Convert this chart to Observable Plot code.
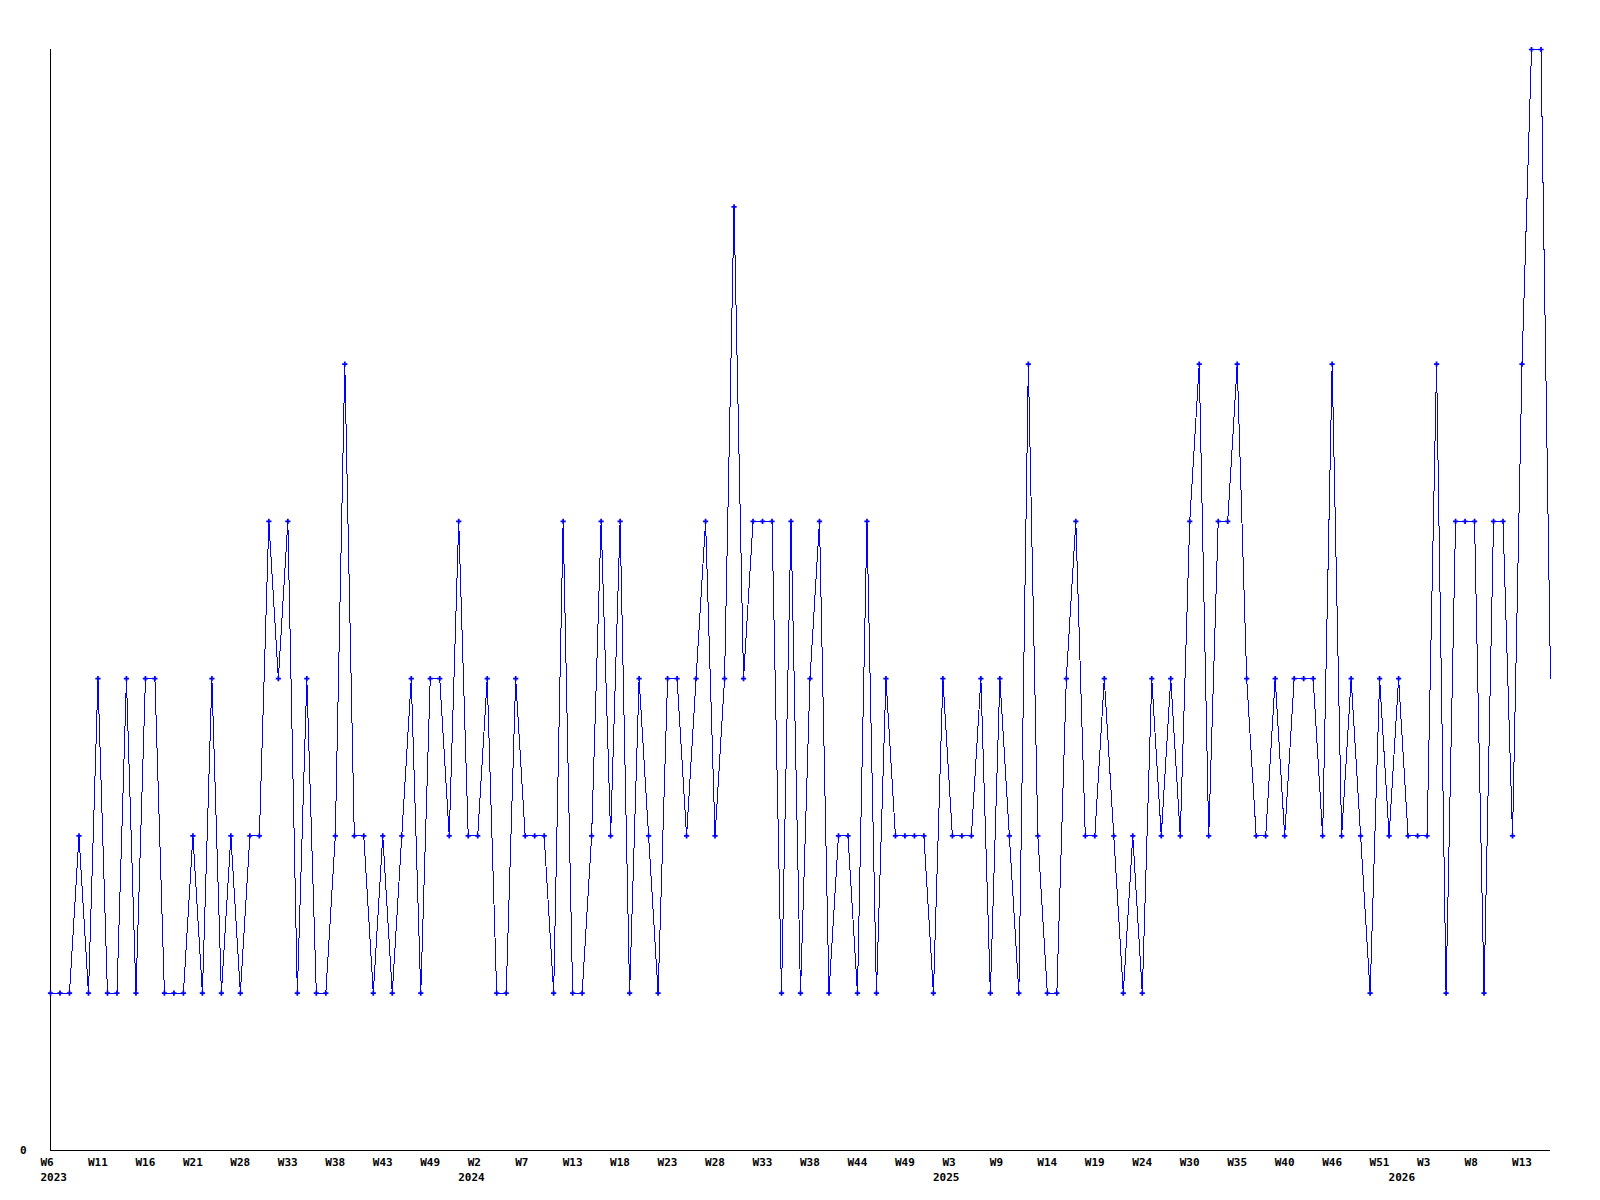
<!DOCTYPE html>
<html>
<head>
<meta charset="utf-8">
<script src="https://cdn.jsdelivr.net/npm/d3@7"></script>
<script src="https://cdn.jsdelivr.net/npm/@observablehq/plot@0.6"></script>
<style>
  html, body { margin: 0; padding: 0; background: #ffffff; }
  #chart svg { display: block; }
</style>
</head>
<body>
<div id="chart"></div>
<script>
// Weekly values, one per data point (2023 W6 → 2026 ~W16)
const values = [
  1,1,1,2,1,3,1,1,3,1,
  3,3,1,1,1,2,1,3,1,2,
  1,2,2,4,3,4,1,3,1,1,
  2,5,2,2,1,2,1,2,3,1,
  3,3,2,4,2,2,3,1,1,3,
  2,2,2,1,4,1,1,2,4,2,
  4,1,3,2,1,3,3,2,3,4,
  2,3,6,3,4,4,4,1,4,1,
  3,4,1,2,2,1,4,1,3,2,
  2,2,2,1,3,2,2,2,3,1,
  3,2,1,5,2,1,1,3,4,2,
  2,3,2,1,2,1,3,2,3,2,
  4,5,2,4,4,5,3,2,2,3,
  2,3,3,3,2,5,2,3,2,1,
  3,2,3,2,2,2,5,1,4,4,
  4,1,4,4,2,5,7,7,3
];
// Week tick labels, one every 5 data points
const weekLabels = ["W6","W11","W16","W21","W28","W33","W38","W43","W49","W2","W7",
  "W13","W18","W23","W28","W33","W38","W44","W49","W3","W9","W14",
  "W19","W24","W30","W35","W40","W46","W51","W3","W8","W13"];
const tickStep = 5;
// Year labels and the data-point index where each year starts
const yearLabels = ["2023","2024","2025","2026"];
const yearIndex = [0, 44, 94, 142];
const yTicks = [0];

const data = values.map((v, i) => ({i, v}));
const weekTickIdx = weekLabels.map((_, k) => k * tickStep);

const font = "'DejaVu Sans Mono', 'Liberation Mono', monospace";

const chart = Plot.plot({
  width: 1600,
  height: 1200,
  marginLeft: 50,
  marginRight: 50,
  marginTop: 49,
  marginBottom: 50,
  style: {fontFamily: font, fontSize: "11px", fontWeight: "bold", background: "#ffffff", color: "#000"},
  x: {domain: [0, values.length - 1]},
  y: {domain: [0, d3.max(values)]},
  marks: [
    Plot.ruleX([0], {stroke: "#000", strokeWidth: 1, shapeRendering: "crispEdges"}),
    Plot.ruleY([0], {stroke: "#000", strokeWidth: 1, shapeRendering: "crispEdges"}),
    Plot.axisY({ticks: yTicks, tickFormat: d => String(d), tickSize: 0, tickPadding: 24, label: null, fill: "#000"}),
    Plot.axisX({ticks: weekTickIdx, tickFormat: (d, k) => weekLabels[k], tickSize: 0, tickPadding: 8,
      textAnchor: "start", dx: -10, label: null, fill: "#000"}),
    Plot.axisX({ticks: yearIndex, tickFormat: (d, k) => yearLabels[k], tickSize: 0, tickPadding: 23,
      textAnchor: "start", dx: -10, label: null, fill: "#000"}),
    Plot.line(data, {x: "i", y: "v", stroke: "#0000ff", strokeWidth: 1, shapeRendering: "crispEdges"}),
    Plot.dot(data.slice(0, -1), {x: "i", y: "v", symbol: "cross", r: 2.2, fill: "#0000ff", stroke: "none"})
  ]
});
document.getElementById("chart").append(chart);
</script>
</body>
</html>
